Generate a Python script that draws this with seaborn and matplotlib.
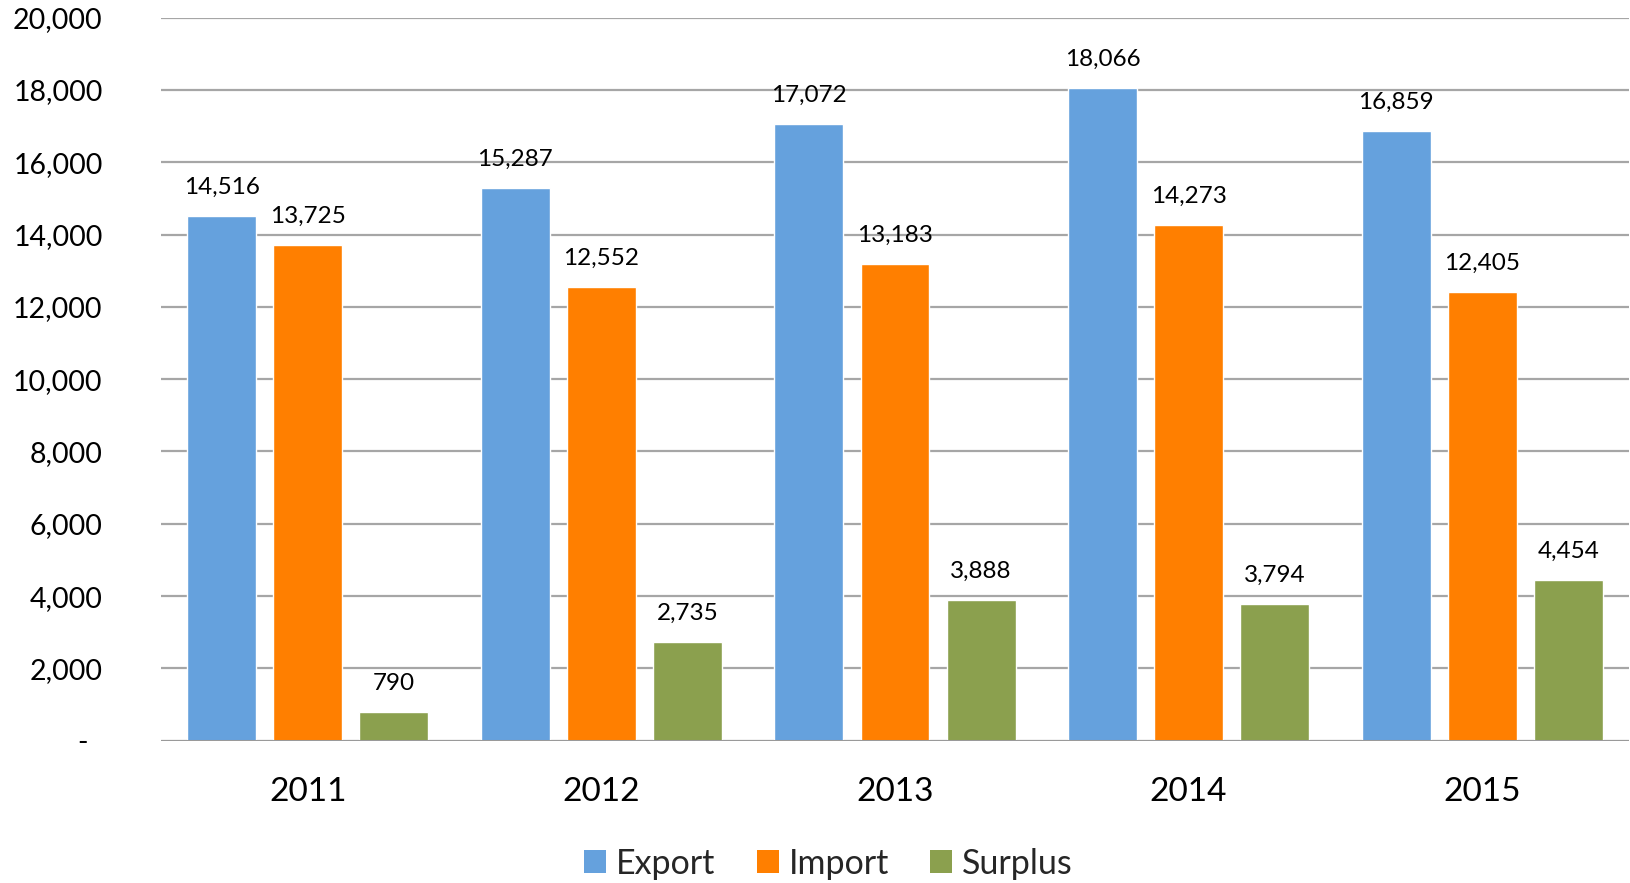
import matplotlib
matplotlib.use("Agg")
import matplotlib.pyplot as plt
import pandas as pd
import seaborn as sns
from matplotlib.patches import Patch

YEARS = ["2011", "2012", "2013", "2014", "2015"]
EXPORT = [14516, 15287, 17072, 18066, 16859]
IMPORT = [13725, 12552, 13183, 14273, 12405]
SURPLUS = [790, 2735, 3888, 3794, 4454]
SERIES = ["Export", "Import", "Surplus"]
COLORS = ["#65A1DD", "#FF7F00", "#8BA04E"]
Y_TICKS = list(range(0, 20001, 2000))

df = pd.DataFrame({
    "year": YEARS * 3,
    "series": ["Export"] * 5 + ["Import"] * 5 + ["Surplus"] * 5,
    "value": EXPORT + IMPORT + SURPLUS,
})

sns.set_theme(style="white")
plt.rcParams["font.family"] = ["Lato", "DejaVu Sans"]

fig = plt.figure(figsize=(16.31, 8.83), dpi=100)
ax = fig.add_axes([0.0987, 0.1612, 0.9001, 0.8188])

sns.barplot(data=df, x="year", y="value", hue="series", order=YEARS,
            hue_order=SERIES, palette=COLORS, width=0.88, gap=0.2,
            saturation=1, legend=False, ax=ax, zorder=3)

# data labels above each bar
for container in ax.containers:
    for bar in container:
        h = bar.get_height()
        ax.annotate(f"{h:,.0f}", (bar.get_x() + bar.get_width() / 2, h),
                    xytext=(0, 13), textcoords="offset points",
                    ha="center", va="bottom", fontsize=17.5, color="black")

ax.set_xlim(-0.5, 4.5)
ax.set_ylim(0, 20000)
ax.set_yticks(Y_TICKS)
ax.set_yticklabels(["-  "] + [f"{v:,}" for v in Y_TICKS[1:]])
ax.tick_params(axis="y", length=0, pad=42, labelsize=20.5, labelcolor="black")
ax.tick_params(axis="x", length=0, pad=26, labelsize=24, labelcolor="black")
ax.set_xlabel("")
ax.set_ylabel("")

ax.grid(axis="y", color="#A6A6A6", linewidth=1.6, zorder=0)
ax.grid(axis="x", visible=False)
for s in ax.spines.values():
    s.set_visible(False)
ax.axhline(0, color="#9A9A9A", linewidth=2.2, zorder=4)

handles = [Patch(facecolor=c, edgecolor="none", label=s) for s, c in zip(SERIES, COLORS)]
fig.legend(handles=handles, loc="center", bbox_to_anchor=(0.508, 0.022),
           ncol=3, frameon=False, fontsize=24.5, handlelength=0.65,
           handleheight=0.65, handletextpad=0.3, columnspacing=1.2)

fig.savefig("out.png", dpi=100)
